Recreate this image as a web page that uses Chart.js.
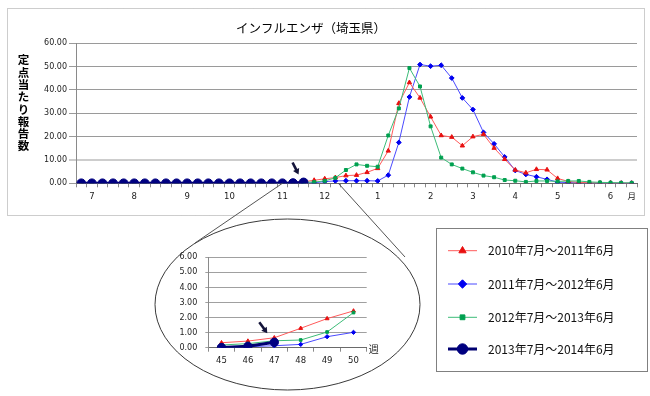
<!DOCTYPE html>
<html lang="ja">
<head>
<meta charset="utf-8">
<title>インフルエンザ（埼玉県）</title>
<script src="https://cdn.jsdelivr.net/npm/chart.js@4.4.1/dist/chart.umd.min.js"></script>
<style>
  html, body { margin: 0; padding: 0; background: #fff; }
  #wrap { position: relative; width: 650px; height: 396px; overflow: hidden; }
  #mainChart { position: absolute; left: 0; top: 0; }
  #zoomChart { position: absolute; left: 150px; top: 240px; }
</style>
</head>
<body>
<div id="wrap">
  <canvas id="mainChart" width="650" height="396"></canvas>
  <canvas id="zoomChart" width="240" height="130"></canvas>
</div>
<script>
// week slots from week 26 to week 26 of the next year; only some carry a month label
const weekLabels = ['', '7', '', '', '',
  '8', '', '', '', '',
  '9', '', '', '',
  '10', '', '', '', '',
  '11', '', '', '',
  '12', '', '', '', '',
  '1', '', '', '', '',
  '2', '', '', '',
  '3', '', '', '',
  '4', '', '', '',
  '5', '', '', '', '',
  '6', '', '月'];

const season2010 = [0.05, 0.03, 0.02, 0.02, 0.02, 0.01, 0.01, 0.01, 0.02, 0.02, 0.03, 0.03, 0.05, 0.06, 0.08, 0.1, 0.13, 0.17, 0.22,
  0.33, 0.44, 0.66, 1.29, 1.93, 2.44, 3.3, 3.5, 4.7, 6.4,
  13.9, 34.3, 43.2, 36.6, 28.5, 20.5, 19.8, 16.1, 20.0, 21.0,
  15.1, 10.3, 5.7, 4.5, 6.0, 5.8, 2.1, 0.8, 0.4, 0.2, 0.1, 0.08, 0.05, 0.04];

const season2011 = [0.02, 0.01, 0.01, 0.01, 0, 0, 0, 0, 0, 0.01, 0.01, 0.01, 0.01, 0.02, 0.02, 0.02, 0.03, 0.03, 0.03,
  0.04, 0.07, 0.13, 0.22, 0.73, 1.02, 1.1, 1.1, 1.1, 1.0,
  3.5, 17.5, 37.0, 50.9, 50.2, 50.6, 45.1, 36.6, 31.6, 21.8,
  16.9, 11.3, 5.5, 3.8, 2.8, 1.7, 0.5, 0.3, 0.15, 0.1, 0.05, 0.05, 0.03, 0.03];

const season2012 = [0.05, 0.04, 0.03, 0.02, 0.02, 0.02, 0.02, 0.02, 0.03, 0.03, 0.04, 0.04, 0.05, 0.06, 0.07, 0.08, 0.1, 0.12, 0.15,
  0.18, 0.27, 0.46, 0.51, 1.04, 2.33, 5.7, 8.1, 7.5, 7.1,
  20.5, 32.1, 49.4, 41.5, 24.4, 11.0, 8.1, 6.3, 4.7, 3.3,
  2.6, 1.4, 1.1, 0.6, 1.0, 1.0, 0.8, 1.0, 1.0, 0.6, 0.4, 0.3, 0.2, 0.2];

const season2013 = [0, 0, 0, 0, 0, 0, 0, 0, 0, 0, 0, 0, 0, 0, 0, 0, 0, 0, 0,
  0.01, 0.09, 0.36];

const seasonLabels = ['2010年7月～2011年6月', '2011年7月～2012年6月', '2012年7月～2013年6月', '2013年7月～2014年6月'];

// zoomed part: weeks 45 to 50
const zoomWeeks = ['45', '46', '47', '48', '49', '50'];
const zoomStart = 19;
const yTicks = [0, 10, 20, 30, 40, 50, 60];
const zoomTicks = [0, 1, 2, 3, 4, 5, 6];

const SANS = 'DejaVu Sans, "Noto Sans CJK JP", sans-serif';
const CJK = '"Noto Sans CJK JP", sans-serif';

const InfluChart = {
    charts: {},

    init: function() {
        this.initMain();
        this.initZoom();
    },

    // dataset styles, shared by both charts
    series: function() {
        return [
            { label: seasonLabels[0], data: season2010, borderColor: '#ff5a5a', backgroundColor: '#e81010',
              pointBorderColor: '#e81010', pointStyle: 'triangle', pointRadius: 2.5, legendRadius: 4.2, borderWidth: 1, order: 2 },
            { label: seasonLabels[1], data: season2011, borderColor: '#4a4aff', backgroundColor: '#0000f0',
              pointBorderColor: '#0000f0', pointStyle: 'rectRot', pointRadius: 2.4, legendRadius: 4.2, borderWidth: 1, order: 3 },
            { label: seasonLabels[2], data: season2012, borderColor: '#3cbc78', backgroundColor: '#00a050',
              pointBorderColor: '#00a050', pointStyle: 'rect', pointRadius: 2.1, legendRadius: 3.4, borderWidth: 1, order: 1 },
            { label: seasonLabels[3], data: season2013, borderColor: '#000070', backgroundColor: '#000080',
              pointBorderColor: '#000080', pointStyle: 'circle', pointRadius: 4.4, legendRadius: 5.2, borderWidth: 3, order: 0 }
        ].map(ds => Object.assign(ds, { tension: 0, pointBorderWidth: 1, fill: false }));
    },

    arrow: function(ctx, x1, y1, x2, y2) {
        const ang = Math.atan2(y2 - y1, x2 - x1);
        const head = 6.5;
        ctx.save();
        ctx.strokeStyle = '#14143a';
        ctx.fillStyle = '#14143a';
        ctx.lineWidth = 2.6;
        ctx.beginPath();
        ctx.moveTo(x1, y1);
        ctx.lineTo(x2 - Math.cos(ang) * head * 0.7, y2 - Math.sin(ang) * head * 0.7);
        ctx.stroke();
        ctx.beginPath();
        ctx.moveTo(x2, y2);
        ctx.lineTo(x2 - head * Math.cos(ang - 0.55), y2 - head * Math.sin(ang - 0.55));
        ctx.lineTo(x2 - head * Math.cos(ang + 0.55), y2 - head * Math.sin(ang + 0.55));
        ctx.closePath();
        ctx.fill();
        ctx.restore();
    },

    initMain: function() {
        const self = this;
        const decor = {
            id: 'decor',
            beforeDraw: function(chart) {
                const ctx = chart.ctx;
                ctx.save();
                ctx.fillStyle = '#fff';
                ctx.fillRect(0, 0, chart.width, chart.height);
                // dotted frame around the main chart
                ctx.strokeStyle = '#9a9a9a';
                ctx.lineWidth = 1;
                ctx.setLineDash([1, 1]);
                ctx.strokeRect(7.5, 8.5, 637, 207);
                ctx.restore();
            },
            afterDraw: function(chart) {
                const ctx = chart.ctx;
                const xs = chart.scales.x;
                const ys = chart.scales.y;
                ctx.save();

                // title
                ctx.fillStyle = '#000';
                ctx.font = '12.5px ' + CJK;
                ctx.textAlign = 'center';
                ctx.textBaseline = 'middle';
                ctx.fillText('インフルエンザ（埼玉県）', 311, 28);

                // vertical y axis title
                ctx.font = 'bold 11.5px ' + CJK;
                const yTitle = '定点当たり報告数';
                for (let i = 0; i < yTitle.length; i++) {
                    ctx.fillText(yTitle[i], 23.5, 60 + i * 12.3);
                }

                // arrow to the latest point
                const meta = chart.getDatasetMeta(3);
                const last = meta.data[season2013.length - 1];
                self.arrow(ctx, last.x - 11, last.y - 20, last.x - 5, last.y - 8);

                // zoom ellipse and its guide lines
                const cx = 287.5, cy = 304.5, rx = 132.5, ry = 85.5;
                ctx.strokeStyle = '#3a3a3a';
                ctx.lineWidth = 1;
                ctx.beginPath();
                ctx.ellipse(cx, cy, rx, ry, 0, 0, Math.PI * 2);
                ctx.stroke();
                const base = ys.getPixelForValue(0);
                ctx.strokeStyle = '#555';
                ctx.beginPath();
                ctx.moveTo(xs.getPixelForValue(zoomStart), base);
                ctx.lineTo(195, 243);
                ctx.moveTo(xs.getPixelForValue(zoomStart + 5) + 3, base);
                ctx.lineTo(405, 257);
                ctx.stroke();

                // legend box
                ctx.strokeStyle = '#808080';
                ctx.strokeRect(436.5, 228.5, 211, 143);
                const rows = [250.7, 284, 317.3, 349];
                chart.data.datasets.forEach((ds, i) => {
                    const y = rows[i];
                    ctx.strokeStyle = ds.borderColor;
                    ctx.lineWidth = ds.borderWidth;
                    ctx.beginPath();
                    ctx.moveTo(448, y);
                    ctx.lineTo(477, y);
                    ctx.stroke();
                    ctx.fillStyle = ds.backgroundColor;
                    ctx.strokeStyle = ds.pointBorderColor;
                    ctx.lineWidth = 1;
                    Chart.helpers.drawPoint(ctx, { pointStyle: ds.pointStyle, radius: ds.legendRadius, borderWidth: 1, rotation: 0 }, 462.5, y);
                    ctx.fillStyle = '#111';
                    ctx.font = '12px ' + CJK;
                    ctx.textAlign = 'left';
                    ctx.fillText(ds.label, 488, y);
                });
                ctx.restore();
            }
        };

        this.charts.main = new Chart(document.getElementById('mainChart'), {
            type: 'line',
            data: { labels: weekLabels, datasets: this.series() },
            options: {
                responsive: false,
                animation: false,
                events: [],
                layout: { padding: { left: 0, top: 43.3, right: 13, bottom: 0 } },
                plugins: { legend: { display: false }, tooltip: { enabled: false } },
                scales: {
                    x: {
                        offset: true,
                        grid: { offset: true, drawOnChartArea: false, drawTicks: true, tickLength: 4, color: '#8a8a8a' },
                        border: { color: '#6a6a6a' },
                        ticks: { autoSkip: false, maxRotation: 0, padding: 4, color: '#222', font: { family: SANS, size: 8.5 } },
                        afterFit: s => { s.height = 396 - 183.3; }
                    },
                    y: {
                        min: 0, max: 60,
                        afterBuildTicks: s => { s.ticks = yTicks.map(v => ({ value: v })); },
                        grid: {
                            tickLength: 7,
                            color: c => (c.tick && c.tick.value === 10 ? '#cdcdcd' : '#9a9a9a'),
                            lineWidth: c => (c.tick && c.tick.value === 10 ? 2 : 1)
                        },
                        border: { color: '#8a8a8a' },
                        ticks: { padding: 2, color: '#222', font: { family: SANS, size: 8 }, callback: v => v.toFixed(2) },
                        afterFit: s => { s.width = 76; }
                    }
                }
            },
            plugins: [decor]
        });
    },

    initZoom: function() {
        const self = this;
        const series = this.series().map(ds => {
            ds.data = ds.data.slice(zoomStart, zoomStart + zoomWeeks.length);
            ds.pointRadius = ds.pointRadius * 0.9;
            return ds;
        });
        series[3].pointRadius = 4.2;

        const extra = {
            id: 'zoomExtra',
            afterDraw: function(chart) {
                const ctx = chart.ctx;
                const area = chart.chartArea;
                ctx.save();
                ctx.fillStyle = '#222';
                ctx.font = '10px ' + CJK;
                ctx.textAlign = 'left';
                ctx.textBaseline = 'middle';
                ctx.fillText('週', area.right + 2, area.bottom + 2);
                const meta = chart.getDatasetMeta(3);
                const last = meta.data[meta.data.length - 1];
                self.arrow(ctx, last.x - 15, last.y - 20, last.x - 7, last.y - 9);
                ctx.restore();
            }
        };

        this.charts.zoom = new Chart(document.getElementById('zoomChart'), {
            type: 'line',
            data: { labels: zoomWeeks, datasets: series },
            options: {
                responsive: false,
                animation: false,
                events: [],
                layout: { padding: { left: 0, top: 17.3, right: 23.3, bottom: 0 } },
                plugins: { legend: { display: false }, tooltip: { enabled: false } },
                scales: {
                    x: {
                        offset: true,
                        grid: { offset: true, drawOnChartArea: false, drawTicks: true, tickLength: 4, color: '#8a8a8a' },
                        border: { color: '#6a6a6a' },
                        ticks: { autoSkip: false, maxRotation: 0, padding: 4, color: '#222', font: { family: SANS, size: 8.5 } },
                        afterFit: s => { s.height = 22.3; }
                    },
                    y: {
                        min: 0, max: 6,
                        afterBuildTicks: s => { s.ticks = zoomTicks.map(v => ({ value: v })); },
                        grid: { tickLength: 3, color: '#a0a0a0' },
                        border: { color: '#8a8a8a' },
                        ticks: { padding: 8, color: '#222', font: { family: SANS, size: 8 }, callback: v => v.toFixed(2) },
                        afterFit: s => { s.width = 58.3; }
                    }
                }
            },
            plugins: [extra]
        });
    }
};

InfluChart.init();
</script>
</body>
</html>
